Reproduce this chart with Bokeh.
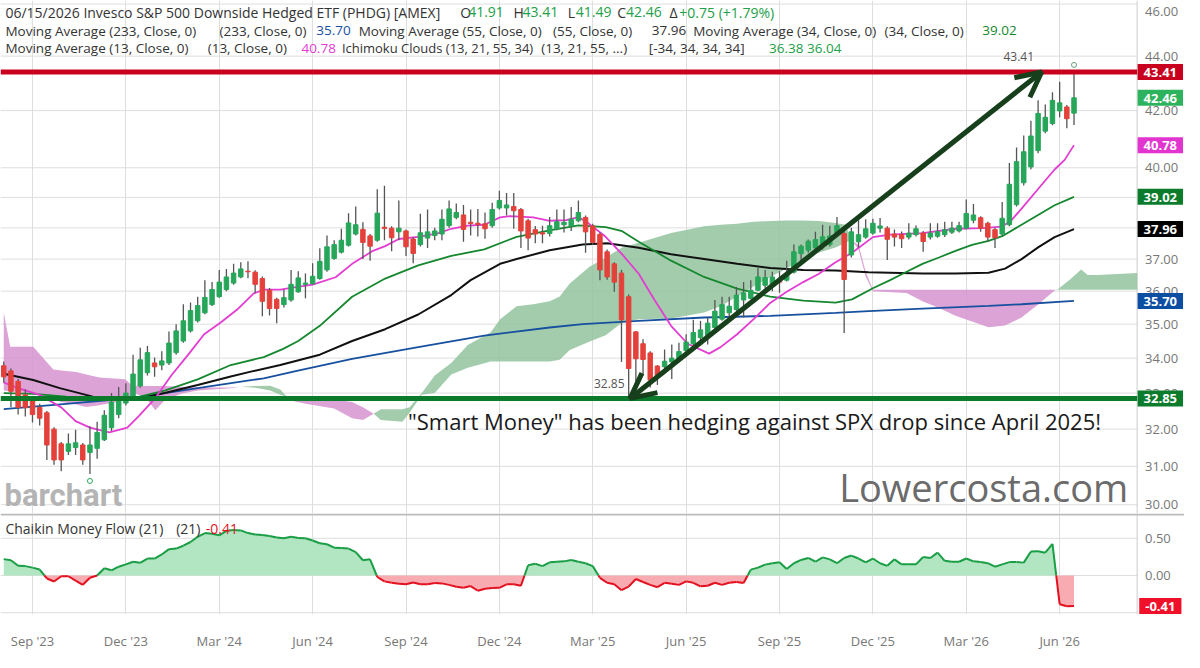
import numpy as np
from bokeh.plotting import figure
from bokeh.models import (Range1d, FixedTicker, Label, Arrow, OpenHead,
                          ColumnDataSource, LinearScale)
from bokeh.layouts import column
from bokeh.embed import file_html
from bokeh.resources import INLINE

FONT = "Open Sans"

# ---------------- data (weekly candles, index 0 = week of Aug 7 2023) ----------------
opens = [33.78, 33.63, 33.33, 32.95, 32.82, 32.6, 32.45, 32.0, 31.6, 31.4,
         31.5, 31.57, 31.37, 31.48, 31.71, 32.04, 32.4, 32.72, 32.9, 33.2,
         33.58, 33.86, 33.8, 33.86, 34.16, 34.5, 34.8, 35.1, 35.34, 35.59,
         35.83, 36.05, 36.25, 36.44, 36.62, 36.59, 36.39, 36.03, 35.75, 35.59,
         35.73, 35.98, 36.21, 36.23, 36.39, 36.66, 37.02, 37.22, 37.44, 37.8,
         37.95, 37.74, 37.6, 38.02, 37.99, 37.87, 37.9, 37.64, 37.46, 37.67,
         37.75, 37.8, 38.07, 38.34, 38.42, 38.18, 38.15, 38.13, 38.07, 38.65,
         38.65, 38.7, 38.6, 38.23, 37.94, 37.84, 37.82, 37.97, 38.1, 38.06,
         38.23, 38.34, 38.06, 37.79, 37.23, 36.85, 36.56, 35.83, 34.77, 34.42,
         34.15, 33.77, 33.75, 33.89, 33.98, 34.22, 34.42, 34.6, 34.66, 34.9,
         35.15, 35.34, 35.44, 35.73, 35.78, 36.03, 36.18, 36.21, 36.3, 36.34,
         36.59, 37.17, 37.28, 37.36, 37.46, 37.46, 37.82, 37.82, 37.13, 37.55,
         37.7, 37.83, 37.99, 37.99, 37.8, 37.78, 37.7, 37.78, 37.83, 37.7,
         37.73, 37.78, 37.86, 37.9, 37.99, 38.25, 38.33, 38.15, 37.94, 37.8,
         38.1, 38.76, 39.49, 40.03, 40.59, 41.27, 41.54, 41.99, 42.13, 41.91]
highs = [33.9, 33.7, 33.4, 33.1, 32.9, 32.7, 32.5, 32.05, 31.65, 31.88,
         31.98, 31.62, 32.08, 32.2, 32.52, 33.0, 33.17, 33.28, 34.1, 34.3,
         34.35, 34.02, 34.2, 34.78, 35.0, 35.6, 35.65, 35.83, 36.34, 36.28,
         36.66, 36.69, 36.85, 36.9, 36.93, 36.65, 36.45, 36.1, 35.8, 36.05,
         36.66, 36.62, 36.55, 36.87, 37.34, 37.75, 37.6, 37.97, 38.48, 38.7,
         38.18, 37.8, 39.27, 39.39, 38.05, 38.9, 37.95, 37.7, 38.46, 38.6,
         38.0, 38.6, 38.9, 38.8, 38.75, 38.6, 38.62, 38.5, 38.82, 39.22,
         39.15, 39.15, 38.65, 38.3, 38.06, 38.07, 38.35, 38.6, 38.6, 38.68,
         38.9, 38.4, 38.13, 37.85, 37.3, 36.9, 36.66, 35.9, 34.8, 34.55,
         34.2, 33.8, 34.25, 34.4, 34.45, 34.7, 35.13, 35.1, 35.2, 35.73,
         35.83, 35.83, 36.13, 36.28, 36.34, 36.72, 36.66, 36.6, 36.62, 36.95,
         37.46, 37.46, 37.62, 37.87, 38.1, 38.07, 38.35, 37.95, 38.0, 38.25,
         38.28, 38.3, 38.32, 38.05, 37.95, 37.88, 38.15, 38.08, 37.9, 38.15,
         38.15, 38.2, 38.2, 38.2, 38.93, 38.78, 38.38, 38.2, 38.0, 38.85,
         40.16, 40.7, 41.12, 41.64, 42.37, 42.22, 42.66, 43.05, 42.2, 43.41]
lows = [33.3, 32.6, 32.4, 32.35, 32.18, 32.1, 31.17, 31.04, 30.87, 31.3,
        31.3, 31.04, 30.8, 31.2, 31.68, 31.95, 32.3, 32.65, 32.85, 33.15,
        33.5, 33.46, 33.65, 33.8, 34.1, 34.45, 34.75, 35.05, 35.3, 35.55,
        35.8, 36.0, 36.2, 36.4, 36.4, 35.95, 35.24, 35.26, 35.03, 35.5,
        35.68, 35.95, 35.78, 36.2, 36.35, 36.6, 36.98, 37.18, 37.4, 37.75,
        37.0, 36.95, 37.55, 37.6, 37.25, 37.6, 37.1, 36.87, 37.4, 37.35,
        37.6, 37.6, 38.0, 38.28, 37.55, 37.75, 37.72, 37.65, 38.0, 38.6,
        38.4, 37.97, 37.35, 37.28, 37.5, 37.5, 37.72, 37.92, 37.85, 37.9,
        38.18, 37.2, 37.45, 36.34, 36.35, 35.98, 33.89, 32.85, 33.14, 33.5,
        33.16, 33.23, 33.55, 33.4, 33.95, 34.15, 34.38, 34.4, 34.4, 34.85,
        35.1, 35.15, 35.4, 35.2, 35.75, 36.0, 36.08, 36.0, 35.95, 36.3,
        36.55, 36.9, 37.2, 37.3, 37.3, 37.4, 37.75, 34.74, 37.05, 37.37,
        37.65, 37.78, 37.85, 36.97, 37.4, 37.35, 37.62, 37.72, 37.23, 37.62,
        37.68, 37.7, 37.8, 37.85, 37.95, 38.15, 37.87, 37.56, 37.35, 37.75,
        38.05, 38.7, 39.4, 39.95, 40.5, 41.2, 41.48, 41.76, 41.37, 41.49]
closes = [33.46, 33.05, 32.6, 32.59, 32.4, 32.3, 31.57, 31.17, 31.17, 31.6,
          31.63, 31.17, 31.57, 31.91, 32.38, 32.75, 32.9, 33.0, 33.54, 33.95,
          34.16, 33.75, 33.92, 34.44, 34.8, 35.1, 35.41, 35.56, 35.81, 36.05,
          36.28, 36.44, 36.56, 36.69, 36.6, 36.21, 35.69, 35.47, 35.47, 35.8,
          36.21, 36.41, 36.25, 36.46, 36.93, 37.39, 37.46, 37.6, 38.16, 38.1,
          37.53, 37.41, 38.48, 37.98, 37.68, 37.99, 37.39, 37.18, 37.84, 37.87,
          37.9, 38.28, 38.62, 38.5, 37.95, 38.14, 38.11, 37.97, 38.6, 38.9,
          38.75, 38.56, 37.9, 37.67, 37.8, 37.8, 38.07, 38.2, 38.18, 38.28,
          38.5, 37.87, 37.53, 36.66, 36.44, 36.28, 35.13, 33.7, 33.98, 33.96,
          33.37, 33.47, 33.91, 34.0, 34.19, 34.47, 34.75, 34.83, 35.03, 35.39,
          35.59, 35.54, 35.88, 35.95, 36.03, 36.44, 36.42, 36.44, 36.28, 36.54,
          37.23, 37.41, 37.57, 37.62, 37.71, 37.74, 38.07, 36.36, 37.87, 37.78,
          37.97, 38.15, 38.06, 37.63, 37.7, 37.65, 37.83, 37.97, 37.56, 37.83,
          37.88, 37.94, 37.99, 38.07, 38.47, 38.42, 37.99, 37.7, 37.68, 38.31,
          39.44, 40.21, 40.55, 41.1, 41.9, 41.76, 42.37, 42.28, 41.71, 42.46]

# moving averages (bar index, value)
ma13_x = [0, 2, 5, 8, 10, 12, 14.7, 17.2, 18.8, 21.1, 23.4, 25.6, 27.9, 30.2, 32.5, 34.8, 36.2, 38.5,
          40, 43, 46.2, 48.5, 51.3, 53.1, 55, 57.7, 60.4, 62.3, 64.6, 66.9, 69.1, 70.5, 73.7, 76,
          78.3, 80, 81.5, 83.8, 86.1, 88.4, 90.6, 92.9, 95.2, 98.2, 99.8, 102.1, 104.4, 106.7, 109,
          111.3, 113.5, 115.8, 118.1, 121, 123.4, 127.9, 132.5, 136.2, 139, 140.3, 141.7, 144, 146.3,
          147.7, 149]
ma13_y = [33.3, 33.14, 32.95, 32.6, 32.22, 32.04, 31.91, 32.04, 32.36, 32.86, 33.52, 34.08, 34.7, 35.05,
          35.44, 35.93, 36.05, 36.05, 36.1, 36.2, 36.43, 36.85, 37.25, 37.41, 37.64, 37.71, 37.82, 37.97,
          38.07, 38.1, 38.34, 38.38, 38.34, 38.23, 38.25, 38.35, 38.13, 37.71, 37.15, 36.54, 35.73, 34.95,
          34.42, 34.13, 34.32, 34.7, 35.15, 35.64, 35.98, 36.28, 36.54, 36.9, 37.2, 37.7, 37.78, 37.83,
          37.97, 37.99, 38.04, 38.25, 38.63, 39.28, 39.94, 40.27, 40.78]
ma34_x = [0, 4.1, 8.7, 13.3, 17.9, 22.4, 27, 31.6, 36.2, 38.9, 41, 44, 48.5, 53.1, 57.7, 62.3, 66.9,
          71.4, 76, 80, 83.8, 86.1, 88.4, 92.9, 97.5, 102.1, 106.7, 111.3, 115.8, 118.1, 121, 123.4,
          125.7, 127.9, 130.2, 132.5, 134.8, 137.1, 139, 141.7, 144, 146.3, 149]
ma34_y = [33.0, 32.98, 32.9, 32.83, 32.85, 33.07, 33.39, 33.8, 34.03, 34.27, 34.5, 34.95, 35.83, 36.39,
          36.8, 37.1, 37.31, 37.71, 37.92, 38.08, 38.02, 37.89, 37.55, 36.95, 36.44, 36.08, 35.83, 35.71,
          35.65, 35.75, 36.09, 36.34, 36.6, 36.85, 37.05, 37.26, 37.45, 37.58, 37.73, 38.1, 38.42, 38.74,
          39.02]
ma55_x = [0, 4.1, 7.8, 12.4, 15.6, 18.8, 22.4, 27, 31.6, 34.4, 38.5, 44, 48.5, 53.1, 57.7, 62.3, 65,
          69.1, 71.4, 76, 80.6, 84, 88.4, 92.9, 97.5, 102.1, 106.7, 111.3, 115.8, 120.4, 127.9, 132.5,
          137.1, 139.4, 141.7, 144, 146.3, 149]
ma55_y = [33.55, 33.37, 33.14, 32.9, 32.85, 32.85, 33.0, 33.23, 33.47, 33.61, 33.8, 34.1, 34.5, 34.85,
          35.29, 35.88, 36.34, 36.85, 37.0, 37.28, 37.46, 37.5, 37.36, 37.15, 37.0, 36.85, 36.72, 36.66,
          36.64, 36.59, 36.55, 36.55, 36.57, 36.7, 37.0, 37.37, 37.7, 37.96]
ma233_x = [0, 8.7, 17.9, 27, 36.2, 40.8, 48.5, 57.7, 66.9, 76, 80.6, 88.4, 97.5, 106.7, 115.8, 120.4,
           127.9, 137.1, 141.7, 149]
ma233_y = [32.55, 32.7, 32.86, 33.14, 33.42, 33.63, 33.98, 34.32, 34.66, 34.9, 35.0, 35.1, 35.2, 35.25,
           35.34, 35.39, 35.47, 35.55, 35.6, 35.70]

# Ichimoku spans (projected forward)
cloud_x = [0, 0.9, 4.1, 6.9, 8, 10.1, 11.5, 13.3, 16.9, 17.9, 18.3, 19.7, 21.1, 22.4, 24.7, 27, 31.6, 33,
           35, 37.1, 38.5, 39.4, 39.8, 42, 46, 48.5, 50, 51.5, 52.5, 55.5, 56.5, 58.2, 60, 62.3, 64.6,
           67.8, 69.1, 71.4, 73.7, 76, 77.4, 78.8, 81.5, 83.8, 86.1, 88.4, 92.9, 97.5, 99.8, 102.1,
           104.4, 106.7, 109, 111.3, 113.5, 115.8, 117.2, 118, 119, 120, 121, 125.7, 127.9, 130.2,
           132.5, 133.9, 137.1, 139.4, 141.7, 144, 146.3, 146.8, 148.6, 150, 150.9, 152.3, 157.8]
span_a = [33.07, 33.05, 32.98, 32.82, 32.75, 32.68, 32.61, 32.66, 32.8, 32.9, 32.98, 32.89, 32.52, 32.8,
          32.98, 33.07, 33.14, 33.18, 33.2, 33.21, 33.1, 32.9, 32.8, 32.7, 32.57, 32.3, 32.25, 32.42,
          32.55, 32.55, 32.6, 33.0, 33.5, 33.86, 34.38, 34.76, 35.15, 35.54, 35.6, 35.69, 35.84, 36.24,
          36.75, 37.05, 37.37, 37.52, 37.83, 38.05, 38.1, 38.13, 38.2, 38.22, 38.24, 38.24, 38.22, 38.16,
          38.1, 37.62, 37.3, 36.45, 36.0, 35.94, 35.69, 35.49, 35.25, 35.15, 34.91, 34.96, 35.2, 35.59,
          36.02, 36.07, 36.39, 36.67, 36.5, 36.5, 36.56]
span_b = [35.35, 34.33, 34.33, 33.67, 33.64, 33.6, 33.53, 33.44, 33.39, 33.21, 33.21, 33.2, 33.2, 33.2,
          33.18, 33.16, 33.16, 33.18, 33.15, 33.07, 32.95, 32.9, 32.85, 32.85, 32.82, 32.75, 32.6, 32.42,
          32.25, 32.2, 32.45, 32.95, 33.0, 33.53, 33.72, 33.9, 33.9, 33.9, 33.9, 33.9, 33.95, 34.24,
          34.48, 34.67, 35.05, 35.15, 35.17, 35.35, 35.54, 35.84, 36.14, 36.44, 36.7, 37.01, 37.21, 37.37,
          37.52, 37.6, 37.45, 36.6, 36.04, 36.04, 36.04, 36.04, 36.04, 36.04, 36.04, 36.04, 36.04, 36.04,
          36.04, 36.04, 36.04, 36.04, 36.04, 36.04, 36.04]

# Chaikin Money Flow (21), one value per bar
cmf = [0.22, 0.205, 0.13, 0.126, 0.106, 0.08, -0.04, -0.08, -0.01, -0.01,
       -0.07, -0.125, -0.03, 0.0, 0.098, 0.07, 0.118, 0.15, 0.185, 0.17,
       0.228, 0.228, 0.283, 0.354, 0.362, 0.40, 0.45, 0.52, 0.57, 0.56,
       0.54, 0.60, 0.61, 0.606, 0.57, 0.55, 0.543, 0.53, 0.51, 0.50,
       0.52, 0.504, 0.50, 0.47, 0.433, 0.42, 0.374, 0.37, 0.362, 0.315,
       0.205, 0.217, -0.02, -0.079, -0.098, -0.11, -0.118, -0.094, -0.118, -0.118,
       -0.102, -0.106, -0.126, -0.15, -0.165, -0.142, -0.205, -0.177, -0.169, -0.165,
       -0.118, -0.118, -0.138, 0.138, 0.157, 0.126, 0.177, 0.185, 0.19, 0.209,
       0.185, 0.165, 0.126, -0.031, -0.098, -0.118, -0.197, -0.15, -0.047, -0.087,
       -0.126, -0.157, -0.098, -0.11, -0.126, -0.079, -0.098, -0.146, -0.138, -0.098,
       -0.126, -0.098, -0.087, -0.102, 0.079, 0.106, 0.146, 0.165, 0.177, 0.087,
       0.165, 0.209, 0.236, 0.185, 0.244, 0.217, 0.165, 0.236, 0.268, 0.228,
       0.177, 0.228, 0.165, 0.13, 0.217, 0.15, 0.15, 0.15, 0.248, 0.236,
       0.307, 0.197, 0.185, 0.185, 0.228, 0.19, 0.18, 0.165, 0.118, 0.15,
       0.18, 0.18, 0.173, 0.323, 0.327, 0.307, 0.425, -0.386, -0.413, -0.41]

x_tick_pos = [4, 17, 30, 43, 56, 69, 82, 95, 108, 121, 134, 147]
x_tick_labels = ["Sep '23", "Dec '23", "Mar '24", "Jun '24", "Sep '24", "Dec '24",
                 "Mar '25", "Jun '25", "Sep '25", "Dec '25", "Mar '26", "Jun '26"]
price_ticks = [30, 31, 32, 33, 34, 35, 36, 37, 38, 39, 40, 42, 44, 46]
cmf_ticks = [0.0, 0.5]
cmf_grid = [-0.5, 0.0, 0.5]

high_level = 43.41
low_level = 32.85
arrow_from = (87.2, 32.85)
arrow_to = (144.5, 43.41)
annotation = "\"Smart Money\" has been hedging against SPX drop since April 2025!"

# ---------------- styling ----------------
UP = "#27a65a"
DOWN = "#e4413b"
WICK = "#555555"
C13 = "#e33cd2"
C34 = "#15872f"
C55 = "#111111"
C233 = "#17509f"
CLOUD_G = "#93c39e"
CLOUD_P = "#d693cf"
RED_LINE = "#c8001e"
GREEN_LINE = "#0b7a2a"
ARROW = "#173f1b"
DARK = "#333333"
HGREEN = "#22a047"
GRID = "#dedede"
AXIS_TXT = "#777777"
HEAD_SIZE = "14px"
SUB_SIZE = "13.5px"

W = 1184
H1 = 513
H2 = 139
# x range covers the whole width (reference pixels 0..1200); the plot area ends at pixel 1152
X0 = (0 - 3.3) / 7.28
X1 = (1200 - 3.3) / 7.28
X_END = (1152 - 3.3) / 7.28
AXIS_PX = 1152


def with_crossings(x, a, b):
    xs, aa, bb = [x[0]], [a[0]], [b[0]]
    for k in range(1, len(x)):
        d0 = a[k - 1] - b[k - 1]
        d1 = a[k] - b[k]
        if d0 * d1 < 0:
            t = d0 / (d0 - d1)
            xs.append(x[k - 1] + t * (x[k] - x[k - 1]))
            v = a[k - 1] + t * (a[k] - a[k - 1])
            aa.append(v)
            bb.append(v)
        xs.append(x[k]); aa.append(a[k]); bb.append(b[k])
    return np.array(xs, float), np.array(aa, float), np.array(bb, float)


def px_label(fig, x, y, text, color, size=HEAD_SIZE, style="normal", align="left",
             baseline="middle", font=FONT, y_px=True):
    kw = dict(y_range_name="px") if y_px else {}
    fig.add_layout(Label(x=x, y=y, x_range_name="px", text=text,
                         text_color=color, text_font=font, text_font_size=size,
                         text_font_style=style, text_align=align, text_baseline=baseline, **kw))


def tag(fig, yval, text, bg):
    fig.add_layout(Label(x=1175.5, y=yval, x_range_name="px", text=text, text_color="white",
                         text_font=FONT, text_font_size="13px", text_font_style="bold",
                         text_align="center", text_baseline="middle", background_fill_color=bg,
                         padding=dict(left=6, right=6, top=4, bottom=3)))


xr = Range1d(X0, X1)

# ---------------- price panel ----------------
p1 = figure(width=W, height=H1, x_range=xr, y_range=Range1d(29.776, 46.14),
            y_axis_type="log", y_axis_location=None, x_axis_location=None,
            output_backend="svg", toolbar_location=None,
            min_border_left=0, min_border_right=0, min_border_top=0, min_border_bottom=0)
p1.outline_line_color = None
p1.extra_x_ranges = {"px": Range1d(0, 1200)}
p1.extra_y_ranges = {"px": Range1d(526, 0)}
p1.extra_y_scales = {"px": LinearScale()}
p1.xgrid.ticker = FixedTicker(ticks=x_tick_pos)
p1.xgrid.grid_line_color = GRID
p1.ygrid.grid_line_color = None

# horizontal grid lines (plot area only) and right price scale
p1.segment(x0=[X0] * len(price_ticks), x1=[X_END] * len(price_ticks), y0=price_ticks, y1=price_ticks,
           line_color=GRID, line_width=1)
p1.segment(x0=[AXIS_PX], x1=[AXIS_PX], y0=[0], y1=[526], x_range_name="px", y_range_name="px",
           line_color="#cccccc", line_width=1)
for t in price_ticks:
    px_label(p1, 1160, min(t, 45.72), f"{t:.2f}", AXIS_TXT, size="13px", y_px=False)

# cloud
cx, ca, cb = with_crossings(cloud_x, span_a, span_b)
ctop = np.maximum(ca, cb)
p1.varea(x=cx, y1=cb, y2=ctop, fill_color=CLOUD_G, fill_alpha=0.85)
p1.varea(x=cx, y1=ca, y2=ctop, fill_color=CLOUD_P, fill_alpha=0.85)

# moving averages
p1.line(ma233_x, ma233_y, line_color=C233, line_width=1.8)
p1.line(ma55_x, ma55_y, line_color=C55, line_width=2)
p1.line(ma34_x, ma34_y, line_color=C34, line_width=1.8)
p1.line(ma13_x, ma13_y, line_color=C13, line_width=1.8)

# candles
o = np.array(opens); c = np.array(closes)
src = ColumnDataSource(dict(
    x=list(range(len(closes))), h=highs, l=lows,
    top=np.maximum(o, c), bot=np.minimum(o, c),
    col=[UP if cc >= oo else DOWN for oo, cc in zip(opens, closes)]))
p1.segment(x0="x", y0="l", x1="x", y1="h", source=src, line_color=WICK, line_width=1.3)
p1.vbar(x="x", width=0.62, top="top", bottom="bot", fill_color="col", line_color="col", source=src)

# high / low markers
lo_i = int(np.argmin(lows)); hi_i = int(np.argmax(highs))
p1.scatter([lo_i], [lows[lo_i] * 0.994], marker="circle", size=5, fill_color=None,
           line_color=UP, line_width=1)
p1.scatter([hi_i], [highs[hi_i] * 1.006], marker="circle", size=5, fill_color=None,
           line_color="#6a9e78", line_width=1)

# horizontal levels
p1.segment(x0=[X0, X0], x1=[X_END, X_END], y0=[high_level, low_level], y1=[high_level, low_level],
           line_color=[RED_LINE, GREEN_LINE], line_width=5)

# arrow
p1.add_layout(Arrow(x_start=arrow_from[0], y_start=arrow_from[1], x_end=arrow_to[0], y_end=arrow_to[1],
                    line_color=ARROW, line_width=5,
                    start=OpenHead(size=25, line_color=ARROW, line_width=5),
                    end=OpenHead(size=25, line_color=ARROW, line_width=5)))

# header lines (text segments at their reference pixel positions)
header = [
    (12, HEAD_SIZE, [("06/15/2026 Invesco S&P 500 Downside Hedged ETF (PHDG) [AMEX]", 5, DARK),
          ("O", 466, DARK), ("41.91", 474, HGREEN), ("H", 520, DARK), ("43.41", 529, HGREEN),
          ("L", 575, DARK), ("41.49", 583, HGREEN), ("C", 625, DARK), ("42.46", 634, HGREEN),
          ("\u0394", 678, DARK), ("+0.75 (+1.79%)", 688, HGREEN)]),
    (31, SUB_SIZE, [("Moving Average (233, Close, 0)", 5, DARK), ("(233, Close, 0)", 222, DARK),
          ("35.70", 320, C233),
          ("Moving Average (55, Close, 0)", 363, DARK), ("(55, Close, 0)", 560, DARK),
          ("37.96", 660, DARK),
          ("Moving Average (34, Close, 0)", 702, DARK), ("(34, Close, 0)", 896, DARK),
          ("39.02", 995, C34)]),
    (49, SUB_SIZE, [("Moving Average (13, Close, 0)", 5, DARK), ("(13, Close, 0)", 210, DARK),
          ("40.78", 305, C13),
          ("Ichimoku Clouds (13, 21, 55, 34)", 346, DARK), ("(13, 21, 55, ...)", 548, DARK),
          ("[-34, 34, 34, 34]", 657, DARK), ("36.38 36.04", 779, HGREEN)]),
]
for yy, size, segs in header:
    for txt, xx, col in segs:
        sz = "13px" if txt.startswith("Ichimoku") else size
        px_label(p1, xx, yy, txt, col, size=sz)

# chart annotations
px_label(p1, 1032, 57, f"{high_level:.2f}", "#555555", size="12px", align="center")
px_label(p1, 617, 393, f"{low_level:.2f}", "#555555", size="12px", align="center")
px_label(p1, 413, 431, annotation, "#1a1a1a", size="22px")
px_label(p1, 850, 525, "Lowercosta.com", "#6b6b6b", size="38px", baseline="bottom")
px_label(p1, 4, 508, "barchart", "#b4b4b4", size="31px", style="bold", font="Roboto")

tag(p1, high_level, f"{high_level:.2f}", RED_LINE)
tag(p1, closes[-1], f"{closes[-1]:.2f}", "#2db35d")
tag(p1, ma13_y[-1], f"{ma13_y[-1]:.2f}", "#e235cf")
tag(p1, ma34_y[-1], f"{ma34_y[-1]:.2f}", "#0b7b2c")
tag(p1, ma55_y[-1], f"{ma55_y[-1]:.2f}", "#000000")
tag(p1, ma233_y[-1], f"{ma233_y[-1]:.2f}", "#0b4ea2")
tag(p1, low_level, f"{low_level:.2f}", "#0b7b2c")

# ---------------- CMF panel ----------------
p2 = figure(width=W, height=H2, x_range=xr, y_range=Range1d(-0.524, 0.833),
            y_axis_location=None, output_backend="svg", toolbar_location=None,
            min_border_left=0, min_border_right=0, min_border_top=0, min_border_bottom=28)
p2.outline_line_color = None
p2.extra_x_ranges = {"px": Range1d(0, 1200)}
p2.extra_y_ranges = {"px": Range1d(640, 526)}
p2.xgrid.ticker = FixedTicker(ticks=x_tick_pos)
p2.xgrid.grid_line_color = GRID
p2.ygrid.grid_line_color = None
p2.xaxis.ticker = FixedTicker(ticks=x_tick_pos)
p2.xaxis.major_label_overrides = {t: l for t, l in zip(x_tick_pos, x_tick_labels)}
p2.xaxis.major_tick_line_color = None
p2.xaxis.minor_tick_line_color = None
p2.xaxis.major_label_text_color = AXIS_TXT
p2.xaxis.major_label_text_font = FONT
p2.xaxis.major_label_text_font_size = "13px"
p2.xaxis.axis_line_color = None
p2.xaxis.major_label_standoff = 11

p2.segment(x0=[X0] * len(cmf_grid), x1=[X_END] * len(cmf_grid), y0=cmf_grid, y1=cmf_grid,
           line_color=GRID, line_width=1)
p2.segment(x0=[AXIS_PX], x1=[AXIS_PX], y0=[526], y1=[640], x_range_name="px", y_range_name="px",
           line_color="#cccccc", line_width=1)
for t in cmf_ticks:
    px_label(p2, 1160, t, f"{t:.2f}", AXIS_TXT, size="13px", y_px=False)

zx, zv, _ = with_crossings(list(range(len(cmf))), cmf, [0.0] * len(cmf))
p2.varea(x=zx, y1=0, y2=np.maximum(zv, 0), fill_color="#b2e5c2")
p2.varea(x=zx, y1=np.minimum(zv, 0), y2=0, fill_color="#f8acb2")
seg_col = ["#1a9e45" if (zv[k] + zv[k + 1]) >= 0 else "#e3101f" for k in range(len(zv) - 1)]
p2.segment(x0=zx[:-1], y0=zv[:-1], x1=zx[1:], y1=zv[1:], line_color=seg_col, line_width=2)

p2.segment(x0=[0], x1=[1200], y0=[527], y1=[527], x_range_name="px", y_range_name="px",
           line_color="#bbbbbb", line_width=2)
px_label(p2, 5, 543, "Chaikin Money Flow (21)", DARK)
px_label(p2, 178, 543, "(21)", DARK)
px_label(p2, 208, 543, f"{cmf[-1]:.2f}", "#e3101f")
tag(p2, cmf[-1], f"{cmf[-1]:.2f}", "#f0102a")

layout = column(p1, p2, spacing=0)
open("out.html", "w").write(file_html(layout, INLINE))
